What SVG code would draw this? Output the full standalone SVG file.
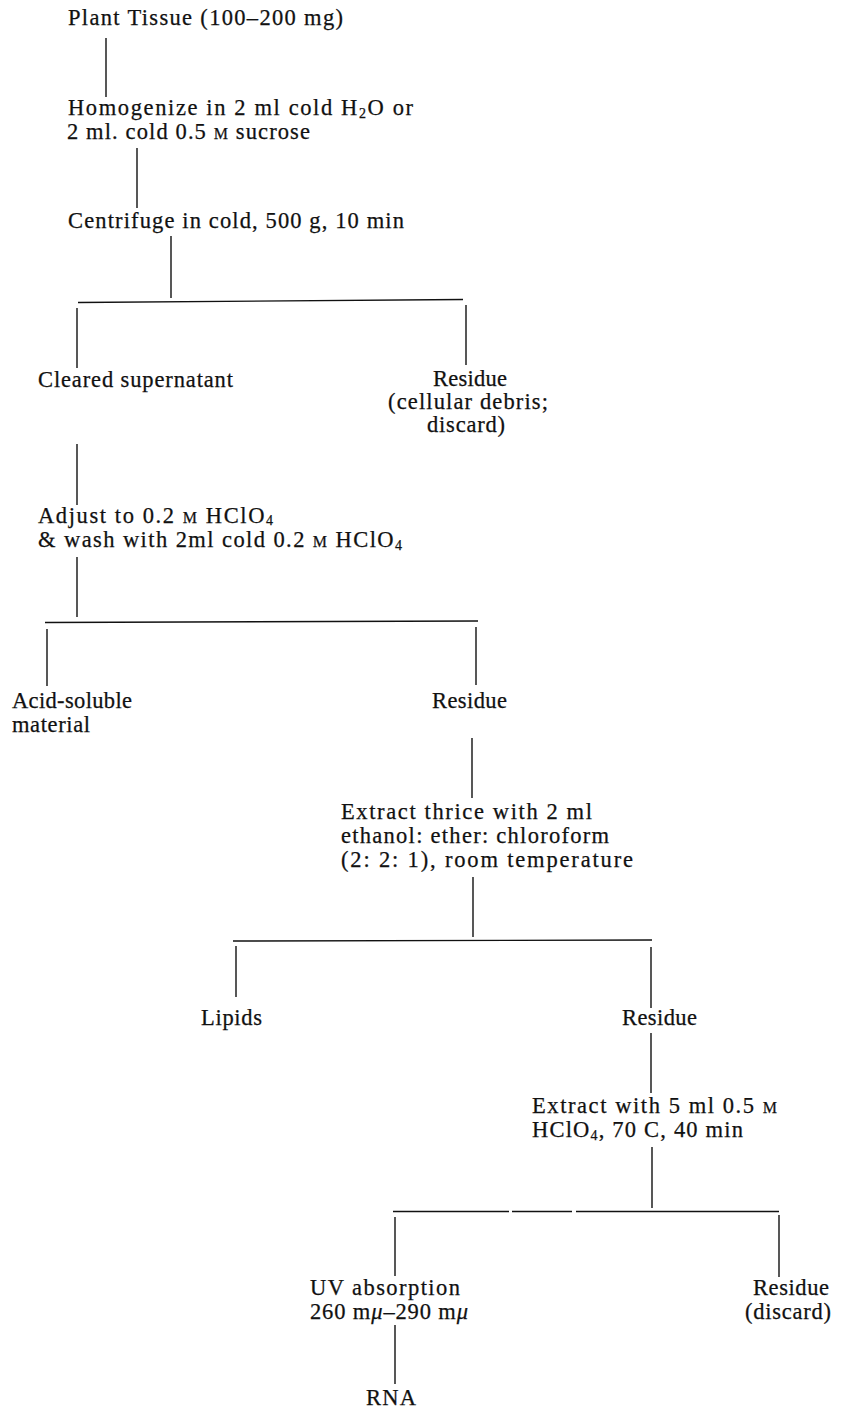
<svg xmlns="http://www.w3.org/2000/svg" width="843" height="1409" viewBox="0 0 843 1409">
<style>
  text { font-family: "Liberation Serif", "Times New Roman", serif; font-size: 22.5px; fill: #111; stroke: #111; stroke-width: 0.25; }
  .sc { font-size: 16px; }
  .sub { font-size: 14px; }
  .mu { font-style: italic; }
  .ln { stroke: #111; stroke-width: 1.4; fill: none; }
</style>
<rect width="843" height="1409" fill="#ffffff"/>
<g id="connectors">
  <line class="ln" x1="106" y1="38" x2="106" y2="97"/>
  <line class="ln" x1="137" y1="148" x2="137" y2="208"/>
  <line class="ln" x1="171" y1="236" x2="171" y2="298"/>
  <line class="ln" x1="78" y1="302.5" x2="463" y2="299.5"/>
  <line class="ln" x1="77" y1="308" x2="77" y2="368"/>
  <line class="ln" x1="466" y1="305" x2="466" y2="365"/>
  <line class="ln" x1="77" y1="444" x2="77" y2="505"/>
  <line class="ln" x1="77" y1="557" x2="77" y2="617"/>
  <line class="ln" x1="45" y1="622.5" x2="478" y2="621"/>
  <line class="ln" x1="47" y1="629" x2="47" y2="686"/>
  <line class="ln" x1="476" y1="627" x2="476" y2="685"/>
  <line class="ln" x1="472" y1="738" x2="472" y2="798"/>
  <line class="ln" x1="473" y1="877" x2="473" y2="937"/>
  <line class="ln" x1="233" y1="941" x2="652" y2="940"/>
  <line class="ln" x1="236" y1="946" x2="236" y2="997"/>
  <line class="ln" x1="651" y1="947" x2="651" y2="1008"/>
  <line class="ln" x1="651" y1="1033" x2="651" y2="1093"/>
  <line class="ln" x1="652" y1="1147" x2="652" y2="1208"/>
  <line class="ln" x1="393" y1="1211.5" x2="509" y2="1211.5"/>
  <line class="ln" x1="512" y1="1211.5" x2="572" y2="1211.5"/>
  <line class="ln" x1="576" y1="1211.5" x2="779" y2="1211.5"/>
  <line class="ln" x1="395" y1="1217" x2="395" y2="1276"/>
  <line class="ln" x1="779" y1="1215" x2="779" y2="1277"/>
  <line class="ln" x1="395" y1="1325" x2="395" y2="1384"/>
</g>
<g id="n-plant">
  <text x="68" y="25" textLength="275" lengthAdjust="spacing">Plant Tissue (100–200 mg)</text>
</g>
<g id="n-homogenize">
  <text x="68" y="115" textLength="345" lengthAdjust="spacing">Homogenize in 2 ml cold H<tspan class="sub" dy="3">2</tspan><tspan dy="-3">O or</tspan></text>
  <text x="67" y="139" textLength="243" lengthAdjust="spacing">2 ml. cold 0.5 <tspan class="sc">M</tspan> sucrose</text>
</g>
<g id="n-centrifuge">
  <text x="68" y="228" textLength="336" lengthAdjust="spacing">Centrifuge in cold, 500 g, 10 min</text>
</g>
<g id="n-supernatant">
  <text x="38" y="387" textLength="195" lengthAdjust="spacing">Cleared supernatant</text>
</g>
<g id="n-residue1">
  <text x="433" y="386" textLength="74" lengthAdjust="spacing">Residue</text>
  <text x="388" y="409" textLength="160" lengthAdjust="spacing">(cellular debris;</text>
  <text x="427" y="432" textLength="78" lengthAdjust="spacing">discard)</text>
</g>
<g id="n-adjust">
  <text x="38" y="523" textLength="235" lengthAdjust="spacing">Adjust to 0.2 <tspan class="sc">M</tspan> HClO<tspan class="sub" dy="2">4</tspan></text>
  <text x="38" y="547" textLength="364" lengthAdjust="spacing">&amp; wash with 2ml cold 0.2 <tspan class="sc">M</tspan> HClO<tspan class="sub" dy="3">4</tspan></text>
</g>
<g id="n-acid">
  <text x="12" y="708" textLength="120" lengthAdjust="spacing">Acid-soluble</text>
  <text x="12" y="732" textLength="78" lengthAdjust="spacing">material</text>
</g>
<g id="n-residue2">
  <text x="432" y="708" textLength="75" lengthAdjust="spacing">Residue</text>
</g>
<g id="n-extract1">
  <text x="341" y="819" textLength="251" lengthAdjust="spacing">Extract thrice with 2 ml</text>
  <text x="341" y="843" textLength="268" lengthAdjust="spacing">ethanol: ether: chloroform</text>
  <text x="341" y="867" textLength="292" lengthAdjust="spacing">(2: 2: 1), room temperature</text>
</g>
<g id="n-lipids">
  <text x="201" y="1025" textLength="61" lengthAdjust="spacing">Lipids</text>
</g>
<g id="n-residue3">
  <text x="622" y="1025" textLength="75" lengthAdjust="spacing">Residue</text>
</g>
<g id="n-extract2">
  <text x="532" y="1113" textLength="245" lengthAdjust="spacing">Extract with 5 ml 0.5 <tspan class="sc">M</tspan></text>
  <text x="532" y="1137" textLength="211" lengthAdjust="spacing">HClO<tspan class="sub" dy="3">4</tspan><tspan dy="-3">, 70 C, 40 min</tspan></text>
</g>
<g id="n-uv">
  <text x="310" y="1295" textLength="150" lengthAdjust="spacing">UV absorption</text>
  <text x="310" y="1319" textLength="158" lengthAdjust="spacing">260 m<tspan class="mu">μ</tspan>–290 m<tspan class="mu">μ</tspan></text>
</g>
<g id="n-residue4">
  <text x="753" y="1295" textLength="76" lengthAdjust="spacing">Residue</text>
  <text x="745" y="1319" textLength="86" lengthAdjust="spacing">(discard)</text>
</g>
<g id="n-rna">
  <text x="366" y="1405" textLength="50" lengthAdjust="spacing">RNA</text>
</g>
</svg>
